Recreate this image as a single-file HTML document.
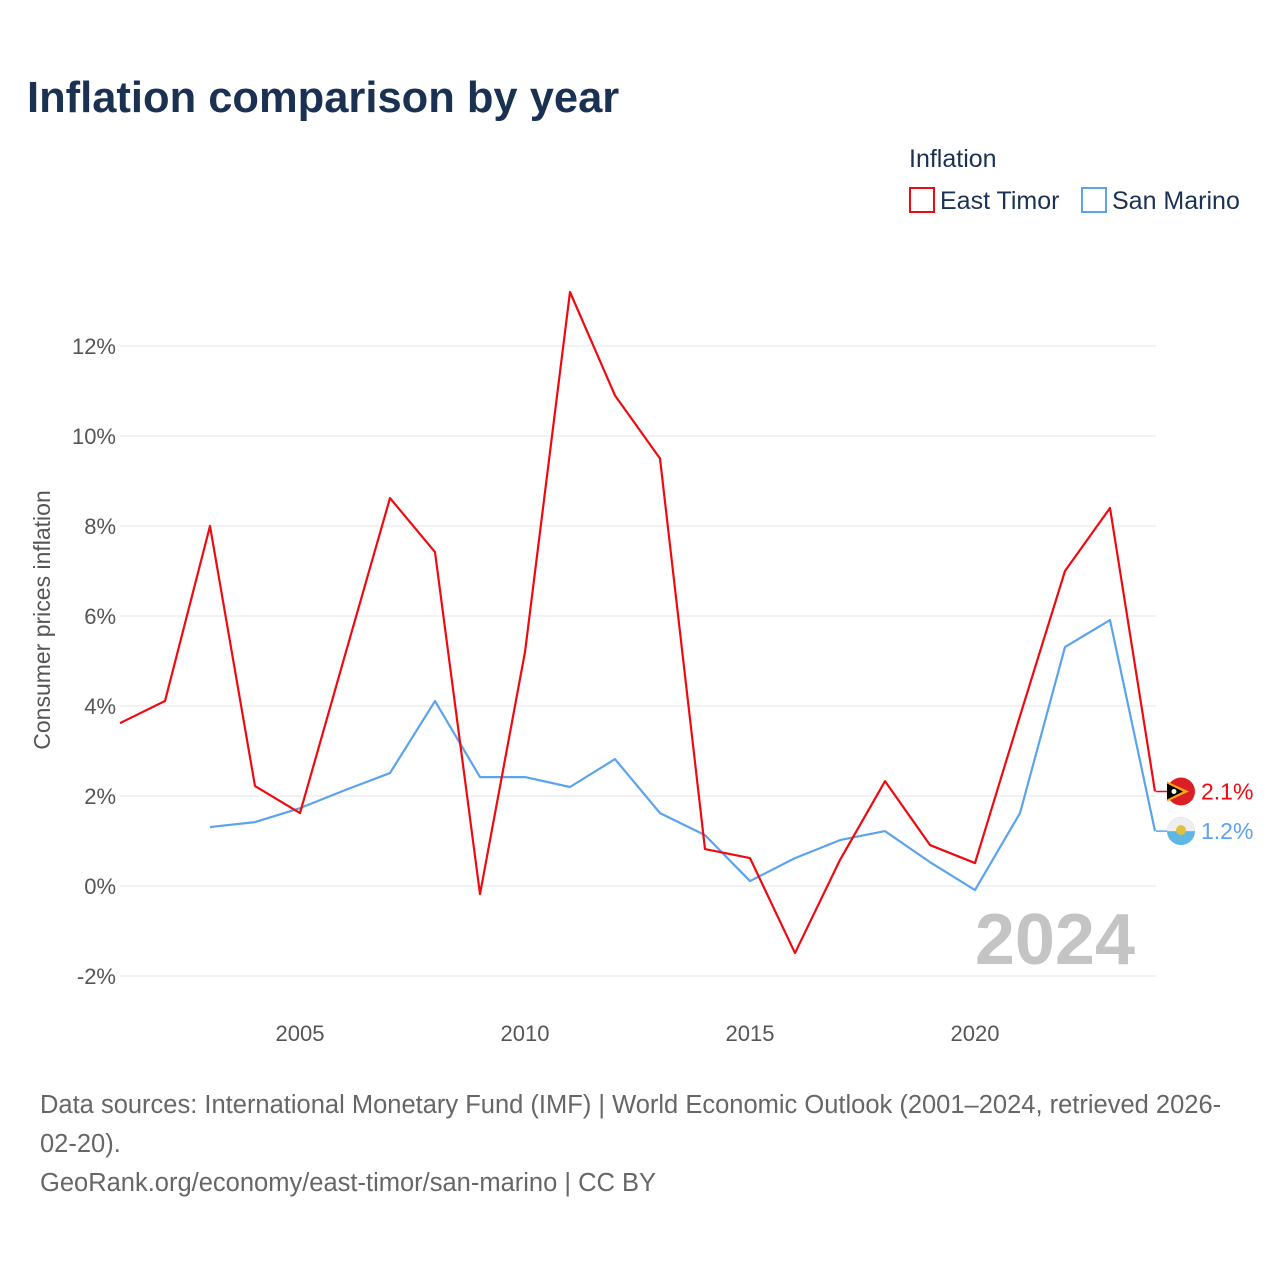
<!DOCTYPE html>
<html><head><meta charset="utf-8">
<style>
body{margin:0;background:#fff;font-family:"Liberation Sans",sans-serif;}
svg text{font-family:"Liberation Sans",sans-serif;}
</style></head>
<body>
<svg id="chart" width="1280" height="1280" viewBox="0 0 1280 1280">
<text x="27" y="112" font-size="43.5" font-weight="bold" fill="#1b3152">Inflation comparison by year</text>
<text x="909" y="167" font-size="25" fill="#1b3152">Inflation</text>
<g>
<rect x="910" y="188" width="24" height="24" fill="none" stroke="#ee0a10" stroke-width="2"/>
<text x="940" y="209" font-size="25" fill="#1b3152">East Timor</text></g>
<g>
<rect x="1082" y="188" width="24" height="24" fill="none" stroke="#5ba3ec" stroke-width="2"/>
<text x="1112" y="209" font-size="25" fill="#1b3152">San Marino</text></g>
<text transform="translate(50,620) rotate(-90)" text-anchor="middle" font-size="23" fill="#555">Consumer prices inflation</text>
<g id="grid"></g>
<text x="1135" y="964" text-anchor="end" font-size="72" font-weight="bold" fill="#c4c4c4">2024</text>
<g id="series"></g>
<text x="40" y="1113" font-size="25.5" fill="#666">Data sources: International Monetary Fund (IMF) | World Economic Outlook (2001–2024, retrieved 2026-</text>
<text x="40" y="1152" font-size="25.5" fill="#666">02-20).</text>
<text x="40" y="1191" font-size="25.5" fill="#666">GeoRank.org/economy/east-timor/san-marino | CC BY</text>
</svg>
<script>
const years=[2001,2002,2003,2004,2005,2006,2007,2008,2009,2010,2011,2012,2013,2014,2015,2016,2017,2018,2019,2020,2021,2022,2023,2024];
const eastTimor=[3.62,4.11,8.0,2.22,1.62,5.13,8.62,7.42,-0.18,5.2,13.2,10.9,9.5,0.82,0.62,-1.49,0.58,2.33,0.91,0.51,3.78,7.0,8.4,2.1];
const sanMarino=[null,null,1.31,1.42,1.73,2.13,2.51,4.11,2.42,2.42,2.2,2.82,1.62,1.13,0.11,0.62,1.02,1.22,0.53,-0.09,1.62,5.31,5.91,1.22];
const yTicks=[-2,0,2,4,6,8,10,12];
const xTicks=[2005,2010,2015,2020];
const NS="http://www.w3.org/2000/svg";
const x=v=>120+(v-2001)*45;
const y=v=>886-v*45;
function mk(t,a,p){const e=document.createElementNS(NS,t);for(const k in a)e.setAttribute(k,a[k]);p.appendChild(e);return e;}
const grid=document.getElementById('grid');
yTicks.forEach(t=>{
 const l=mk('line',{x1:120,x2:1156,y1:y(t),y2:y(t),stroke:'#e6e6e6','stroke-width':1},grid);
 
 
 const tx=mk('text',{x:116,y:y(t)+8,'text-anchor':'end','font-size':22,fill:'#555'},grid);
 tx.textContent=t+'%';
 
 
});
xTicks.forEach(t=>{
 const tx=mk('text',{x:x(t),y:1041,'text-anchor':'middle','font-size':22,fill:'#555'},grid);
 tx.textContent=t;
 
 
});
const ser=document.getElementById('series');
function line(vals,color,name){
 let d='';vals.forEach((v,i)=>{if(v===null)return;d+=(d?'L':'M')+x(years[i])+','+y(v);});
 const p=mk('path',{d:d,fill:'none',stroke:color,'stroke-width':2.2,'stroke-linejoin':'round'},ser);
 
 
}
line(sanMarino,'#5ba3ec','san-marino-line');
line(eastTimor,'#ee0a10','east-timor-line');
function endLabel(vals,color,name,flag){
 const v=vals[vals.length-1],cy=y(v),cx=1181;
 mk('line',{x1:1156,x2:cx,y1:cy,y2:cy,stroke:color,'stroke-width':1.5},ser);
 const g=mk('g',{},ser);
 
 
 if(flag==='tl'){
  mk('circle',{cx:cx,cy:cy,r:14,fill:'#dc1f26'},g);
  mk('path',{d:`M${cx-14},${cy-10} L${cx+8},${cy} L${cx-14},${cy+10}Z`,fill:'#f9a51a'},g);
  mk('path',{d:`M${cx-14},${cy-8} L${cx+2},${cy} L${cx-14},${cy+8}Z`,fill:'#000'},g);
  mk('circle',{cx:cx-7,cy:cy,r:2.5,fill:'#fff'},g);
 }else{
  mk('circle',{cx:cx,cy:cy,r:14,fill:'#5eb6e4'},g);
  mk('path',{d:`M${cx-14},${cy} A14,14 0 0 1 ${cx+14},${cy}Z`,fill:'#eee'},g);
  mk('circle',{cx:cx,cy:cy-1,r:5,fill:'#e0c040'},g);
 }
 const t=mk('text',{x:1201,y:cy+8,'font-size':23,fill:color},ser);
 t.textContent=v.toFixed(1)+'%';
 
 
}
endLabel(eastTimor,'#ee0a10','east-timor','tl');
endLabel(sanMarino,'#5ba3ec','san-marino','sm');
</script>
</body></html>
